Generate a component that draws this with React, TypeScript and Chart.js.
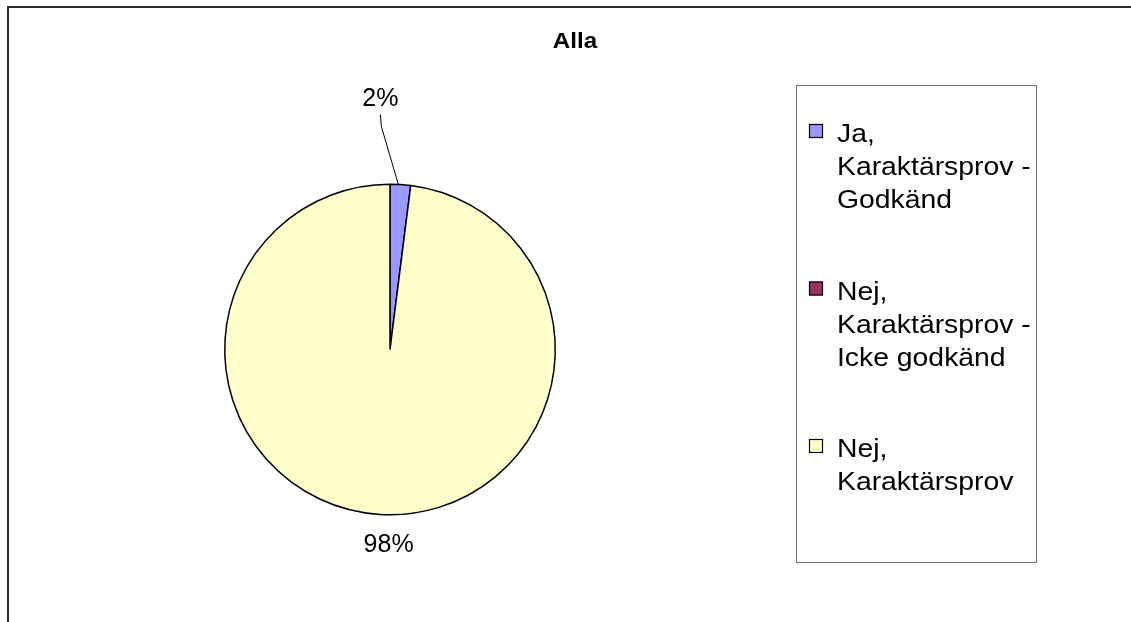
import React, { useEffect, useRef } from "react";
import { Chart, registerables } from "chart.js";
Chart.register(...registerables);

const chartTitle = "Alla";
const categories: string[][] = [
  ["Ja,", "Karaktärsprov -", "Godkänd"],
  ["Nej,", "Karaktärsprov -", "Icke godkänd"],
  ["Nej,", "Karaktärsprov"],
];
const values = [2, 0, 98];
const sliceColors = ["#9999FF", "#993366", "#FFFFCC"];

const FONT = '"Liberation Sans", Arial, sans-serif';
// label offsets relative to the slice's outer midpoint (styling only)
const labelOffsets: number[][] = [
  [-20, -85],
  [0, 0],
  [9, 31],
];

function fillTextScaled(ctx: CanvasRenderingContext2D, t: string, x: number, y: number, sx: number) {
  ctx.save();
  ctx.translate(x, y);
  ctx.scale(sx, 1);
  ctx.fillText(t, 0, 0);
  ctx.restore();
}

const decorPlugin = {
  id: "decor",
  afterDraw(chart: any) {
    const ctx = chart.ctx as CanvasRenderingContext2D;
    ctx.save();
    // outer frame (top + left visible)
    ctx.fillStyle = "#2a2a2a";
    ctx.fillRect(7, 6, 2000, 2);
    ctx.fillRect(7, 6, 2, 2000);

    // title
    ctx.fillStyle = "#000";
    ctx.font = `bold 22px ${FONT}`;
    ctx.textAlign = "center";
    ctx.textBaseline = "alphabetic";
    fillTextScaled(ctx, chartTitle, 575, 47.5, 1.1);

    // data labels
    const total = values.reduce((a, b) => a + b, 0);
    const meta = chart.getDatasetMeta(0);
    ctx.font = `25px ${FONT}`;
    ctx.textBaseline = "middle";
    meta.data.forEach((arc: any, i: number) => {
      if (!values[i]) return;
      const mid = (arc.startAngle + arc.endAngle) / 2;
      const ex = arc.x + Math.cos(mid) * arc.outerRadius;
      const ey = arc.y + Math.sin(mid) * arc.outerRadius;
      const lx = ex + labelOffsets[i][0];
      const ly = ey + labelOffsets[i][1];
      const txt = Math.round((values[i] / total) * 100) + "%";
      ctx.fillStyle = "#000";
      ctx.fillText(txt, lx, ly);
      if (values[i] / total < 0.05) {
        ctx.strokeStyle = "#000";
        ctx.lineWidth = 1;
        ctx.beginPath();
        ctx.moveTo(lx, ly + 15);
        ctx.lineTo(lx + 1, ly + 27);
        ctx.lineTo(ex - 2, ey);
        ctx.stroke();
      }
    });

    // legend box
    ctx.strokeStyle = "#707070";
    ctx.lineWidth = 1;
    ctx.strokeRect(796.5, 85.5, 240, 477);
    ctx.font = `26px ${FONT}`;
    ctx.textAlign = "left";
    ctx.textBaseline = "alphabetic";
    const lineH = 33;
    let base = 142;
    categories.forEach((lines, i) => {
      ctx.fillStyle = sliceColors[i];
      ctx.fillRect(809, base - 18, 14, 14);
      ctx.strokeStyle = "#000";
      ctx.lineWidth = 1.2;
      ctx.strokeRect(809.5, base - 17.5, 13, 13);
      ctx.fillStyle = "#000";
      lines.forEach((t, j) => fillTextScaled(ctx, t, 837, base + j * lineH, 1.09));
      base += 157.5;
    });
    ctx.restore();
  },
};

export default function App() {
  const ref = useRef<HTMLCanvasElement>(null);
  useEffect(() => {
    if (!ref.current) return;
    const chart = new Chart(ref.current, {
      type: "pie",
      data: {
        labels: categories.map((c) => c.join(" ")),
        datasets: [
          {
            data: values,
            backgroundColor: sliceColors,
            borderColor: "#000",
            borderWidth: 1.5,
          },
        ],
      },
      options: {
        animation: false,
        responsive: false,
        maintainAspectRatio: false,
        layout: { padding: { left: 224, top: 183, right: 575, bottom: 106 } },
        plugins: {
          legend: { display: false },
          tooltip: { enabled: false },
          title: { display: false },
        },
      },
      plugins: [decorPlugin],
    });
    return () => chart.destroy();
  }, []);
  return (
    <div style={{ position: "absolute", left: 0, top: 0, width: 1131, height: 622, background: "#fff" }}>
      <canvas ref={ref} width={1131} height={622} style={{ display: "block", width: 1131, height: 622 }} />
    </div>
  );
}
